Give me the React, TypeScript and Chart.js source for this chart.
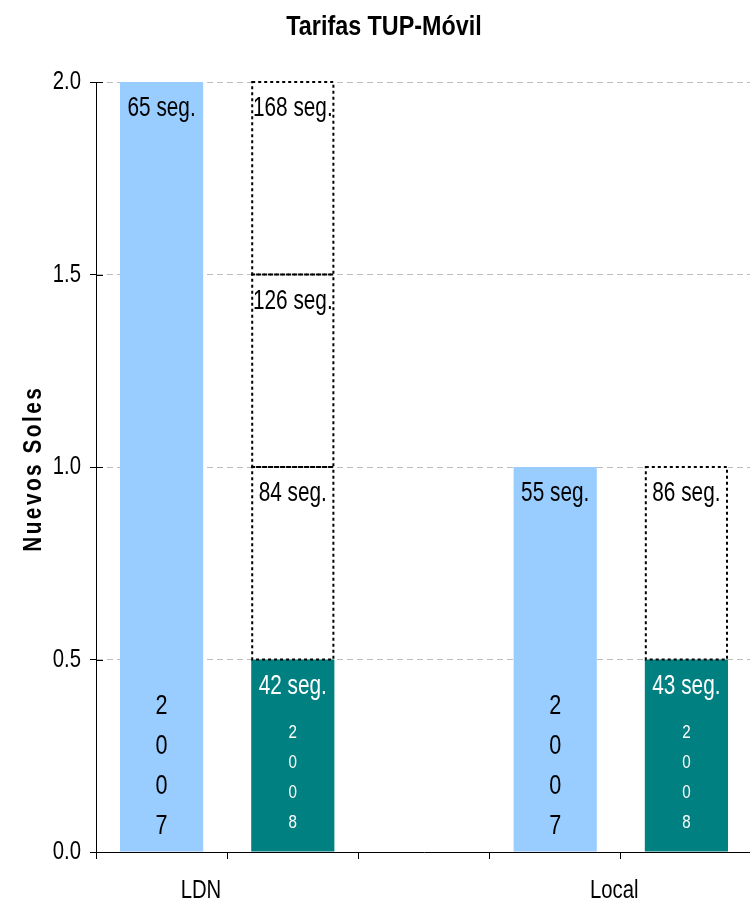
import React, { useEffect, useRef } from 'react';
import { Chart, registerables } from 'chart.js';
Chart.register(...registerables);

const chartTitle = 'Tarifas TUP-Móvil';
const yTitle = 'Nuevos Soles';
const categories = ['LDN 2007', 'LDN 2008', '', 'Local 2007', 'Local 2008'];
const groupLabels = ['LDN', 'Local'];
const yTicks = [0, 0.5, 1.0, 1.5, 2.0];
const tariff2007 = [2.0, null, null, 1.0, null];
const tariff2008 = [null, 0.5, null, null, 0.5];
const step2 = [null, 0.5, null, null, 0.5];
const step3 = [null, 0.5, null, null, null];
const step4 = [null, 0.5, null, null, null];
const seconds2007 = ['65 seg.', '', '', '55 seg.', ''];
const seconds2008 = ['', '42 seg.', '', '', '43 seg.'];
const secondsStep2 = ['', '84 seg.', '', '', '86 seg.'];
const secondsStep3 = ['', '126 seg.', '', '', ''];
const secondsStep4 = ['', '168 seg.', '', '', ''];
const yearText = ['2007', '2008', '', '2007', '2008'];

const FONT = "'Liberation Sans', Arial, sans-serif";
const groupLabelAt = [0.3, 3.45];

function drawText(ctx: any, text: string, x: number, y: number, o: any) {
  ctx.save();
  ctx.translate(x, y);
  if (o.rotate) ctx.rotate(o.rotate);
  ctx.scale(o.sx || 1, 1);
  ctx.font = `${o.bold ? 'bold ' : ''}${o.size}px ${FONT}`;
  ctx.fillStyle = o.color || '#000';
  ctx.textBaseline = 'middle';
  if (o.spacing) {
    (ctx as any).letterSpacing = `${o.spacing}px`;
    const w = ctx.measureText(text).width - o.spacing;
    ctx.textAlign = 'left';
    ctx.fillText(text, -w / 2, 0);
  } else {
    ctx.textAlign = o.align || 'center';
    ctx.fillText(text, 0, 0);
  }
  ctx.restore();
}

const annotate = {
  id: 'annotate',
  afterDatasetsDraw(chart: any) {
    const ctx = chart.ctx;
    chart.data.datasets.forEach((ds: any, di: number) => {
      const meta = chart.getDatasetMeta(di);
      meta.data.forEach((bar: any, i: number) => {
        const v = ds.data[i];
        if (v == null) return;
        const { x, y, base, width } = bar.getProps(['x', 'y', 'base', 'width'], true);
        const left = x - width / 2;
        if (ds.dotted) {
          ctx.save();
          ctx.strokeStyle = '#000';
          ctx.lineWidth = 2;
          ctx.setLineDash([3, 3]);
          ctx.strokeRect(left + 1, y, width - 2, base - y);
          ctx.restore();
        }
        const lbl = ds.segLabels ? ds.segLabels[i] : '';
        if (lbl) drawText(ctx, lbl, x, y + 27, { size: 27, sx: 0.77, color: ds.labelColor });
        if (ds.year) {
          const s = yearText[i];
          const st = ds.year;
          for (let k = 0; k < s.length; k++) {
            drawText(ctx, s[k], x, base - st.bottom - (s.length - 1 - k) * st.spacing, { size: st.size, sx: 0.8, color: st.color });
          }
        }
      });
    });
  },
  afterDraw(chart: any) {
    const ctx = chart.ctx;
    const { top, bottom, left } = chart.chartArea;
    const ys = chart.scales.y;
    const xs = chart.scales.x;

    drawText(ctx, chartTitle, chart.width / 2 + 7, 28, { size: 27, bold: true, sx: 0.864 });

    drawText(ctx, yTitle, 34, (top + bottom) / 2 + 3, { size: 26, bold: true, sx: 0.8, spacing: 3.1, rotate: -Math.PI / 2 });

    ys.ticks.forEach((t: any) => {
      const py = ys.getPixelForValue(t.value);
      drawText(ctx, Number(t.value).toFixed(1), 81, py, { size: 26, sx: 0.78, align: 'right' });
      if (t.value > 0) {
        ctx.save();
        ctx.strokeStyle = '#000';
        ctx.lineWidth = 1;
        ctx.beginPath();
        ctx.moveTo(left, Math.round(py) + 0.5);
        ctx.lineTo(left + 7, Math.round(py) + 0.5);
        ctx.stroke();
        ctx.restore();
      }
    });

    groupLabels.forEach((g, j) => {
      drawText(ctx, g, xs.getPixelForValue(groupLabelAt[j]), bottom + 39, { size: 26, sx: 0.78 });
    });
  },
};

export default function App() {
  const ref = useRef<HTMLCanvasElement>(null);
  useEffect(() => {
    const chart = new Chart(ref.current as HTMLCanvasElement, {
      type: 'bar',
      data: {
        labels: categories,
        datasets: [
          { label: '2007', data: tariff2007, backgroundColor: '#99CCFF', segLabels: seconds2007, labelColor: '#000', year: { size: 27, color: '#000', bottom: 25, spacing: 40 } } as any,
          { label: '2008', data: tariff2008, backgroundColor: '#008080', segLabels: seconds2008, labelColor: '#fff', year: { size: 19, color: '#fff', bottom: 29, spacing: 30 } } as any,
          { label: 'x2', data: step2, backgroundColor: '#fff', dotted: true, segLabels: secondsStep2, labelColor: '#000' } as any,
          { label: 'x3', data: step3, backgroundColor: '#fff', dotted: true, segLabels: secondsStep3, labelColor: '#000' } as any,
          { label: 'x4', data: step4, backgroundColor: '#fff', dotted: true, segLabels: secondsStep4, labelColor: '#000' } as any,
        ],
      },
      options: {
        animation: false,
        responsive: false,
        layout: { padding: { left: 0, right: 2, top: 82, bottom: 0 } },
        datasets: { bar: { barPercentage: 0.634, categoryPercentage: 1 } },
        plugins: {
          legend: { display: false },
          tooltip: { enabled: false },
          title: { display: false },
        },
        scales: {
          x: {
            stacked: true,
            offset: true,
            grid: { display: true, offset: true, drawOnChartArea: false, drawTicks: true, tickLength: 7, tickColor: '#000', tickWidth: 1 },
            border: { display: true, color: '#000', width: 1 },
            ticks: { display: false },
            afterFit(scale: any) { scale.height = 51; },
          },
          y: {
            stacked: true,
            min: 0,
            max: 2,
            afterBuildTicks(scale: any) { scale.ticks = yTicks.map((v) => ({ value: v })); },
            grid: {
              color: (c: any) => (c.tick && c.tick.value === 0 ? 'rgba(0,0,0,0)' : '#BDBDBD'),
              lineWidth: 1,
              drawTicks: true,
              tickLength: 6,
              tickColor: '#000',
              tickWidth: 1,
              tickBorderDash: [],
            },
            border: { display: true, color: '#000', width: 1, dash: [6, 4] },
            ticks: { display: false },
            afterFit(scale: any) { scale.width = 96; },
          },
        },
      } as any,
      plugins: [annotate],
    });
    return () => chart.destroy();
  }, []);
  return (
    <div style={{ position: 'fixed', left: 0, top: 0, width: 750, height: 903, overflow: 'hidden', background: '#fff' }}>
      <canvas ref={ref} width={754} height={903} style={{ display: 'block', width: 754, height: 903 }} />
    </div>
  );
}
